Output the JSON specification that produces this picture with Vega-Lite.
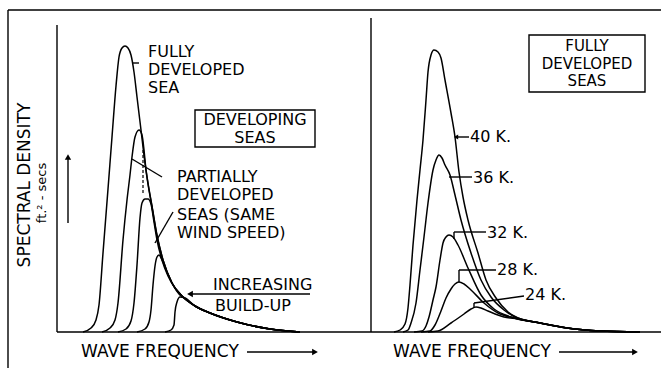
{
  "$schema": "https://vega.github.io/schema/vega-lite/v6.json",
  "autosize": {"type": "pad"},
  "padding": {"left": 7, "top": 9, "right": 0, "bottom": 0},
  "background": "white",
  "spacing": 0,
  "bounds": "flush",
  "config": {"view": {"stroke": null}, "font": "DejaVu Sans"},
  "hconcat": [
    {
      "width": 314,
      "height": 314,
      "layer": [
        {
          "data": {"values": [
            {"series":"FD","f":0.13,"s":0},{"series":"FD","f":0.17,"s":0.4},{"series":"FD","f":0.195,"s":1.2},{"series":"FD","f":0.21,"s":2.7},{"series":"FD","f":0.23,"s":7.9},{"series":"FD","f":0.255,"s":14.3},{"series":"FD","f":0.275,"s":19.5},{"series":"FD","f":0.295,"s":24.6},{"series":"FD","f":0.31,"s":27.5},{"series":"FD","f":0.325,"s":28.4},{"series":"FD","f":0.34,"s":28.6},{"series":"FD","f":0.355,"s":28.4},{"series":"FD","f":0.37,"s":27.7},{"series":"FD","f":0.385,"s":26.0},{"series":"FD","f":0.40,"s":23.5},{"series":"FD","f":0.42,"s":20.2},{"series":"FD","f":0.44,"s":16.9},{"series":"FD","f":0.455,"s":14.9},{"series":"FD","f":0.475,"s":12.6},{"series":"FD","f":0.50,"s":9.7},{"series":"FD","f":0.53,"s":7.2},{"series":"FD","f":0.575,"s":4.9},{"series":"FD","f":0.625,"s":3.6},{"series":"FD","f":0.69,"s":2.6},{"series":"FD","f":0.765,"s":1.9},{"series":"FD","f":0.90,"s":1.0},{"series":"FD","f":1.065,"s":0.3},{"series":"FD","f":1.215,"s":0},
            {"series":"P1","f":0.225,"s":0},{"series":"P1","f":0.265,"s":0.4},{"series":"P1","f":0.29,"s":1.2},{"series":"P1","f":0.305,"s":2.9},{"series":"P1","f":0.33,"s":9.2},{"series":"P1","f":0.35,"s":13.2},{"series":"P1","f":0.365,"s":15.7},{"series":"P1","f":0.375,"s":17.5},{"series":"P1","f":0.39,"s":19.5},{"series":"P1","f":0.41,"s":20.2},{"series":"P1","f":0.425,"s":19.7},{"series":"P1","f":0.435,"s":18.2},{"series":"P1","f":0.445,"s":16.2},{"series":"P1","f":0.455,"s":14.8},{"series":"P1","f":0.475,"s":12.5},{"series":"P1","f":0.50,"s":9.6},{"series":"P1","f":0.53,"s":7.2},{"series":"P1","f":0.575,"s":4.9},{"series":"P1","f":0.625,"s":3.6},{"series":"P1","f":0.69,"s":2.6},{"series":"P1","f":0.765,"s":1.9},{"series":"P1","f":0.90,"s":1.0},{"series":"P1","f":1.065,"s":0.3},{"series":"P1","f":1.215,"s":0},
            {"series":"P2","f":0.305,"s":0},{"series":"P2","f":0.345,"s":0.3},{"series":"P2","f":0.37,"s":1.1},{"series":"P2","f":0.385,"s":2.9},{"series":"P2","f":0.40,"s":6.7},{"series":"P2","f":0.415,"s":11.4},{"series":"P2","f":0.425,"s":12.9},{"series":"P2","f":0.44,"s":13.3},{"series":"P2","f":0.455,"s":13.3},{"series":"P2","f":0.47,"s":12.8},{"series":"P2","f":0.485,"s":11.0},{"series":"P2","f":0.50,"s":9.2},{"series":"P2","f":0.525,"s":7.2},{"series":"P2","f":0.555,"s":5.6},{"series":"P2","f":0.59,"s":4.4},{"series":"P2","f":0.625,"s":3.6},{"series":"P2","f":0.69,"s":2.6},{"series":"P2","f":0.765,"s":1.9},{"series":"P2","f":0.90,"s":1.0},{"series":"P2","f":1.065,"s":0.3},{"series":"P2","f":1.215,"s":0},
            {"series":"P3","f":0.40,"s":0},{"series":"P3","f":0.44,"s":0.3},{"series":"P3","f":0.46,"s":1.0},{"series":"P3","f":0.47,"s":2.2},{"series":"P3","f":0.48,"s":4.7},{"series":"P3","f":0.49,"s":6.6},{"series":"P3","f":0.50,"s":7.5},{"series":"P3","f":0.51,"s":7.7},{"series":"P3","f":0.525,"s":7.2},{"series":"P3","f":0.55,"s":6.0},{"series":"P3","f":0.58,"s":4.7},{"series":"P3","f":0.61,"s":3.8},{"series":"P3","f":0.635,"s":3.4},{"series":"P3","f":0.69,"s":2.6},{"series":"P3","f":0.765,"s":1.9},{"series":"P3","f":0.90,"s":1.0},{"series":"P3","f":1.065,"s":0.3},{"series":"P3","f":1.215,"s":0},
            {"series":"P4","f":0.54,"s":0},{"series":"P4","f":0.57,"s":0.2},{"series":"P4","f":0.585,"s":0.7},{"series":"P4","f":0.59,"s":2.0},{"series":"P4","f":0.60,"s":3.0},{"series":"P4","f":0.615,"s":3.5},{"series":"P4","f":0.635,"s":3.45},{"series":"P4","f":0.69,"s":2.6},{"series":"P4","f":0.765,"s":1.9},{"series":"P4","f":0.90,"s":1.0},{"series":"P4","f":1.065,"s":0.3},{"series":"P4","f":1.215,"s":0}
          ]},
          "mark": {"type": "line", "interpolate": "monotone", "color": "black", "strokeWidth": 1.5},
          "encoding": {
            "x": {"field": "f", "type": "quantitative", "scale": {"domain": [0, 1.57], "nice": false, "zero": false}, "axis": null},
            "y": {"field": "s", "type": "quantitative", "scale": {"domain": [0, 31.4], "nice": false, "zero": false}, "axis": null},
            "detail": {"field": "series"}
          }
        },
        {
          "data": {"values": [
            {"f": 0, "s": 0, "f2": 1.57, "s2": 0},
            {"f": 0, "s": 0, "f2": 0, "s2": 30.7},
            {"f": -0.245, "s": 32.2, "f2": -0.245, "s2": -3.6},
            {"f": -0.245, "s": 32.2, "f2": 1.57, "s2": 32.2},
            {"f": 0.38, "s": 26.9, "f2": 0.41, "s2": 26.9},
            {"f": 0.375, "s": 17.3, "f2": 0.525, "s2": 15.5},
            {"f": 0.58, "s": 12.0, "f2": 0.49, "s2": 8.9},
            {"f": 0.665, "s": 3.8, "f2": 1.265, "s2": 3.8},
            {"f": 0.95, "s": -2.0, "f2": 1.29, "s2": -2.0},
            {"f": 0.055, "s": 10.9, "f2": 0.055, "s2": 17.5}
          ]},
          "mark": {"type": "rule", "color": "black", "strokeWidth": 1.4},
          "encoding": {
            "x": {"field": "f", "type": "quantitative", "axis": null},
            "x2": {"field": "f2"},
            "y": {"field": "s", "type": "quantitative", "axis": null},
            "y2": {"field": "s2"}
          }
        },
        {
          "data": {"values": [{"f": 0.43, "s": 18.2, "f2": 0.43, "s2": 13.7}]},
          "mark": {"type": "rule", "color": "black", "strokeWidth": 1.2, "strokeDash": [3, 2]},
          "encoding": {
            "x": {"field": "f", "type": "quantitative", "axis": null},
            "x2": {"field": "f2"},
            "y": {"field": "s", "type": "quantitative", "axis": null},
            "y2": {"field": "s2"}
          }
        },
        {
          "data": {"values": [{"f": 0.69, "s": 22.2, "f2": 1.29, "s2": 18.5}]},
          "mark": {"type": "rect", "filled": false, "stroke": "black", "strokeWidth": 1.4},
          "encoding": {
            "x": {"field": "f", "type": "quantitative", "axis": null},
            "x2": {"field": "f2"},
            "y": {"field": "s", "type": "quantitative", "axis": null},
            "y2": {"field": "s2"}
          }
        },
        {
          "data": {"values": [
            {"t": "FULLY", "f": 0.455, "s": 28.0},
            {"t": "DEVELOPED", "f": 0.455, "s": 26.2},
            {"t": "SEA", "f": 0.455, "s": 24.4},
            {"t": "PARTIALLY", "f": 0.60, "s": 15.5},
            {"t": "DEVELOPED", "f": 0.60, "s": 13.7},
            {"t": "SEAS (SAME", "f": 0.60, "s": 11.7},
            {"t": "WIND SPEED)", "f": 0.60, "s": 9.9},
            {"t": "INCREASING", "f": 0.78, "s": 4.7},
            {"t": "BUILD-UP", "f": 0.79, "s": 2.6}
          ]},
          "mark": {"type": "text", "align": "left", "baseline": "middle", "fontSize": 16, "font": "DejaVu Sans", "color": "black"},
          "encoding": {
            "x": {"field": "f", "type": "quantitative", "axis": null},
            "y": {"field": "s", "type": "quantitative", "axis": null},
            "text": {"field": "t"}
          }
        },
        {
          "data": {"values": [{"t": "WAVE FREQUENCY", "f": 0.12, "s": -2.0}]},
          "mark": {"type": "text", "align": "left", "baseline": "middle", "fontSize": 17, "font": "DejaVu Sans", "color": "black"},
          "encoding": {
            "x": {"field": "f", "type": "quantitative", "axis": null},
            "y": {"field": "s", "type": "quantitative", "axis": null},
            "text": {"field": "t"}
          }
        },
        {
          "data": {"values": [
            {"t": "DEVELOPING", "f": 0.99, "s": 21.2},
            {"t": "SEAS", "f": 0.99, "s": 19.4}
          ]},
          "mark": {"type": "text", "align": "center", "baseline": "middle", "fontSize": 16, "font": "DejaVu Sans", "color": "black"},
          "encoding": {
            "x": {"field": "f", "type": "quantitative", "axis": null},
            "y": {"field": "s", "type": "quantitative", "axis": null},
            "text": {"field": "t"}
          }
        },
        {
          "data": {"values": [{"t": "SPECTRAL DENSITY", "f": -0.16, "s": 14.7}]},
          "mark": {"type": "text", "align": "center", "baseline": "middle", "angle": 270, "fontSize": 17, "font": "DejaVu Sans", "color": "black"},
          "encoding": {
            "x": {"field": "f", "type": "quantitative", "axis": null},
            "y": {"field": "s", "type": "quantitative", "axis": null},
            "text": {"field": "t"}
          }
        },
        {
          "data": {"values": [{"t": "ft.² - secs", "f": -0.075, "s": 13.9}]},
          "mark": {"type": "text", "align": "center", "baseline": "middle", "angle": 270, "fontSize": 13, "font": "DejaVu Sans", "color": "black"},
          "encoding": {
            "x": {"field": "f", "type": "quantitative", "axis": null},
            "y": {"field": "s", "type": "quantitative", "axis": null},
            "text": {"field": "t"}
          }
        },
        {
          "data": {"values": [{"f": 0.665, "s": 3.8}]},
          "mark": {"type": "point", "shape": "triangle-left", "filled": true, "color": "black", "size": 45, "opacity": 1},
          "encoding": {
            "x": {"field": "f", "type": "quantitative", "axis": null},
            "y": {"field": "s", "type": "quantitative", "axis": null}
          }
        },
        {
          "data": {"values": [{"f": 1.29, "s": -2.0}]},
          "mark": {"type": "point", "shape": "triangle-right", "filled": true, "color": "black", "size": 45, "opacity": 1},
          "encoding": {
            "x": {"field": "f", "type": "quantitative", "axis": null},
            "y": {"field": "s", "type": "quantitative", "axis": null}
          }
        },
        {
          "data": {"values": [{"f": 0.055, "s": 17.5}]},
          "mark": {"type": "point", "shape": "triangle-up", "filled": true, "color": "black", "size": 40, "opacity": 1},
          "encoding": {
            "x": {"field": "f", "type": "quantitative", "axis": null},
            "y": {"field": "s", "type": "quantitative", "axis": null}
          }
        }
      ]
    },
    {
      "width": 290,
      "height": 314,
      "layer": [
        {
          "data": {"values": [
            {"series":"40K","f":0.115,"s":0},{"series":"40K","f":0.145,"s":0.2},{"series":"40K","f":0.17,"s":0.8},{"series":"40K","f":0.185,"s":2.4},{"series":"40K","f":0.195,"s":4.7},{"series":"40K","f":0.21,"s":8.7},{"series":"40K","f":0.23,"s":13.2},{"series":"40K","f":0.245,"s":16.2},{"series":"40K","f":0.26,"s":19.2},{"series":"40K","f":0.275,"s":23.2},{"series":"40K","f":0.285,"s":26.0},{"series":"40K","f":0.30,"s":27.7},{"series":"40K","f":0.315,"s":28.2},{"series":"40K","f":0.335,"s":28.0},{"series":"40K","f":0.35,"s":27.4},{"series":"40K","f":0.37,"s":25.2},{"series":"40K","f":0.40,"s":21.9},{"series":"40K","f":0.42,"s":19.5},{"series":"40K","f":0.44,"s":16.0},{"series":"40K","f":0.46,"s":13.5},{"series":"40K","f":0.485,"s":11.2},{"series":"40K","f":0.535,"s":7.9},{"series":"40K","f":0.575,"s":5.2},{"series":"40K","f":0.625,"s":3.4},{"series":"40K","f":0.685,"s":2.0},{"series":"40K","f":0.735,"s":1.4},{"series":"40K","f":0.845,"s":0.9},{"series":"40K","f":0.98,"s":0.4},{"series":"40K","f":1.145,"s":0.1},{"series":"40K","f":1.345,"s":0},
            {"series":"36K","f":0.16,"s":0},{"series":"36K","f":0.185,"s":0.2},{"series":"36K","f":0.20,"s":0.9},{"series":"36K","f":0.225,"s":2.9},{"series":"36K","f":0.245,"s":6.2},{"series":"36K","f":0.265,"s":9.5},{"series":"36K","f":0.285,"s":12.9},{"series":"36K","f":0.31,"s":16.2},{"series":"36K","f":0.325,"s":17.2},{"series":"36K","f":0.34,"s":17.7},{"series":"36K","f":0.355,"s":17.4},{"series":"36K","f":0.37,"s":16.7},{"series":"36K","f":0.395,"s":15.7},{"series":"36K","f":0.42,"s":13.7},{"series":"36K","f":0.45,"s":11.2},{"series":"36K","f":0.50,"s":7.9},{"series":"36K","f":0.55,"s":5.2},{"series":"36K","f":0.60,"s":3.5},{"series":"36K","f":0.665,"s":2.2},{"series":"36K","f":0.72,"s":1.5},{"series":"36K","f":0.845,"s":0.9},{"series":"36K","f":0.98,"s":0.4},{"series":"36K","f":1.145,"s":0.1},{"series":"36K","f":1.345,"s":0},
            {"series":"32K","f":0.215,"s":0},{"series":"32K","f":0.255,"s":0.1},{"series":"32K","f":0.275,"s":0.6},{"series":"32K","f":0.29,"s":1.5},{"series":"32K","f":0.31,"s":3.2},{"series":"32K","f":0.325,"s":4.5},{"series":"32K","f":0.345,"s":7.2},{"series":"32K","f":0.36,"s":8.9},{"series":"32K","f":0.375,"s":9.5},{"series":"32K","f":0.39,"s":9.7},{"series":"32K","f":0.41,"s":9.5},{"series":"32K","f":0.435,"s":8.7},{"series":"32K","f":0.485,"s":6.4},{"series":"32K","f":0.55,"s":3.7},{"series":"32K","f":0.615,"s":2.3},{"series":"32K","f":0.70,"s":1.5},{"series":"32K","f":0.845,"s":0.9},{"series":"32K","f":0.98,"s":0.4},{"series":"32K","f":1.145,"s":0.1},{"series":"32K","f":1.345,"s":0},
            {"series":"28K","f":0.25,"s":0},{"series":"28K","f":0.295,"s":0.1},{"series":"28K","f":0.32,"s":0.7},{"series":"28K","f":0.35,"s":2.1},{"series":"28K","f":0.375,"s":3.4},{"series":"28K","f":0.40,"s":4.3},{"series":"28K","f":0.42,"s":4.8},{"series":"28K","f":0.44,"s":5.0},{"series":"28K","f":0.465,"s":4.8},{"series":"28K","f":0.50,"s":4.2},{"series":"28K","f":0.565,"s":2.9},{"series":"28K","f":0.635,"s":1.9},{"series":"28K","f":0.715,"s":1.4},{"series":"28K","f":0.845,"s":0.9},{"series":"28K","f":0.98,"s":0.4},{"series":"28K","f":1.145,"s":0.1},{"series":"28K","f":1.345,"s":0},
            {"series":"24K","f":0.285,"s":0},{"series":"24K","f":0.335,"s":0.1},{"series":"24K","f":0.40,"s":0.9},{"series":"24K","f":0.465,"s":1.8},{"series":"24K","f":0.50,"s":2.3},{"series":"24K","f":0.525,"s":2.5},{"series":"24K","f":0.55,"s":2.4},{"series":"24K","f":0.585,"s":2.1},{"series":"24K","f":0.665,"s":1.5},{"series":"24K","f":0.735,"s":1.3},{"series":"24K","f":0.845,"s":0.9},{"series":"24K","f":0.98,"s":0.4},{"series":"24K","f":1.145,"s":0.1},{"series":"24K","f":1.345,"s":0}
          ]},
          "mark": {"type": "line", "interpolate": "monotone", "color": "black", "strokeWidth": 1.5},
          "encoding": {
            "x": {"field": "f", "type": "quantitative", "scale": {"domain": [0, 1.45], "nice": false, "zero": false}, "axis": null},
            "y": {"field": "s", "type": "quantitative", "scale": {"domain": [0, 31.4], "nice": false, "zero": false}, "axis": null},
            "detail": {"field": "series"}
          }
        },
        {
          "data": {"values": [
            {"f": 0, "s": 0, "f2": 1.45, "s2": 0},
            {"f": 0, "s": 0, "f2": 0, "s2": 31.4},
            {"f": 0, "s": 32.2, "f2": 1.45, "s2": 32.2},
            {"f": 0.425, "s": 19.5, "f2": 0.49, "s2": 19.5},
            {"f": 0.39, "s": 15.5, "f2": 0.505, "s2": 15.5},
            {"f": 0.415, "s": 10.0, "f2": 0.575, "s2": 10.0},
            {"f": 0.415, "s": 10.0, "f2": 0.415, "s2": 9.3},
            {"f": 0.44, "s": 6.2, "f2": 0.625, "s2": 6.2},
            {"f": 0.44, "s": 6.2, "f2": 0.44, "s2": 5.0},
            {"f": 0.515, "s": 2.9, "f2": 0.765, "s2": 3.6},
            {"f": 0.515, "s": 2.9, "f2": 0.515, "s2": 2.4},
            {"f": 0.94, "s": -2.0, "f2": 1.32, "s2": -2.0}
          ]},
          "mark": {"type": "rule", "color": "black", "strokeWidth": 1.4},
          "encoding": {
            "x": {"field": "f", "type": "quantitative", "axis": null},
            "x2": {"field": "f2"},
            "y": {"field": "s", "type": "quantitative", "axis": null},
            "y2": {"field": "s2"}
          }
        },
        {
          "data": {"values": [{"f": 0.79, "s": 29.7, "f2": 1.37, "s2": 24.0}]},
          "mark": {"type": "rect", "filled": false, "stroke": "black", "strokeWidth": 1.4},
          "encoding": {
            "x": {"field": "f", "type": "quantitative", "axis": null},
            "x2": {"field": "f2"},
            "y": {"field": "s", "type": "quantitative", "axis": null},
            "y2": {"field": "s2"}
          }
        },
        {
          "data": {"values": [
            {"t": "40 K.", "f": 0.495, "s": 19.5},
            {"t": "36 K.", "f": 0.51, "s": 15.4},
            {"t": "32 K.", "f": 0.58, "s": 9.9},
            {"t": "28 K.", "f": 0.63, "s": 6.2},
            {"t": "24 K.", "f": 0.77, "s": 3.7}
          ]},
          "mark": {"type": "text", "align": "left", "baseline": "middle", "fontSize": 16, "font": "DejaVu Sans", "color": "black"},
          "encoding": {
            "x": {"field": "f", "type": "quantitative", "axis": null},
            "y": {"field": "s", "type": "quantitative", "axis": null},
            "text": {"field": "t"}
          }
        },
        {
          "data": {"values": [{"t": "WAVE FREQUENCY", "f": 0.11, "s": -2.0}]},
          "mark": {"type": "text", "align": "left", "baseline": "middle", "fontSize": 17, "font": "DejaVu Sans", "color": "black"},
          "encoding": {
            "x": {"field": "f", "type": "quantitative", "axis": null},
            "y": {"field": "s", "type": "quantitative", "axis": null},
            "text": {"field": "t"}
          }
        },
        {
          "data": {"values": [
            {"t": "FULLY", "f": 1.08, "s": 28.6},
            {"t": "DEVELOPED", "f": 1.08, "s": 26.85},
            {"t": "SEAS", "f": 1.08, "s": 25.1}
          ]},
          "mark": {"type": "text", "align": "center", "baseline": "middle", "fontSize": 15, "font": "DejaVu Sans", "color": "black"},
          "encoding": {
            "x": {"field": "f", "type": "quantitative", "axis": null},
            "y": {"field": "s", "type": "quantitative", "axis": null},
            "text": {"field": "t"}
          }
        },
        {
          "data": {"values": [{"f": 0.425, "s": 19.5}]},
          "mark": {"type": "point", "shape": "triangle-left", "filled": true, "color": "black", "size": 25, "opacity": 1},
          "encoding": {
            "x": {"field": "f", "type": "quantitative", "axis": null},
            "y": {"field": "s", "type": "quantitative", "axis": null}
          }
        },
        {
          "data": {"values": [{"f": 1.32, "s": -2.0}]},
          "mark": {"type": "point", "shape": "triangle-right", "filled": true, "color": "black", "size": 45, "opacity": 1},
          "encoding": {
            "x": {"field": "f", "type": "quantitative", "axis": null},
            "y": {"field": "s", "type": "quantitative", "axis": null}
          }
        }
      ]
    }
  ]
}
